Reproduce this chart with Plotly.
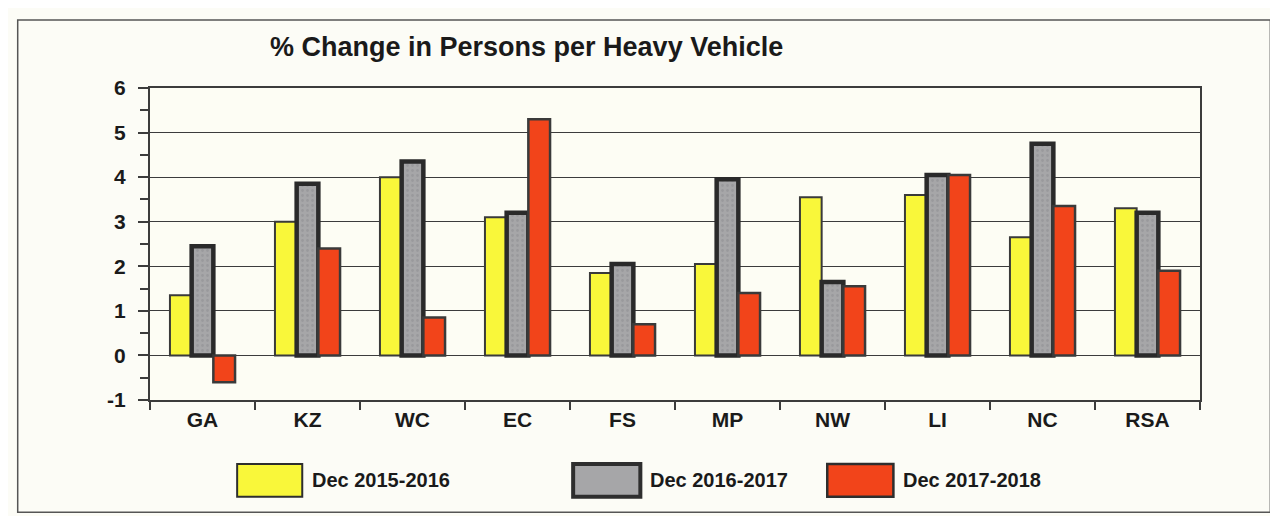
import plotly.graph_objects as go

categories = ["GA", "KZ", "WC", "EC", "FS", "MP", "NW", "LI", "NC", "RSA"]
series_names = ["Dec 2015-2016", "Dec 2016-2017", "Dec 2017-2018"]
vals_2015_2016 = [1.35, 3.0, 4.0, 3.1, 1.85, 2.05, 3.55, 3.6, 2.65, 3.3]
vals_2016_2017 = [2.45, 3.85, 4.35, 3.2, 2.05, 3.95, 1.65, 4.05, 4.75, 3.2]
vals_2017_2018 = [-0.6, 2.4, 0.85, 5.3, 0.7, 1.4, 1.55, 4.05, 3.35, 1.9]
y_ticks = [-1, 0, 1, 2, 3, 4, 5, 6]
y_tick_labels = ["-1", "0", "1", "2", "3", "4", "5", "6"]

YELLOW = "#f9f73a"
GRAY = "#a6a6a8"
RED = "#f2441a"
EDGE = "#3a3a3a"
FONT = "Liberation Sans, Arial, sans-serif"

fig = go.Figure()
fig.add_bar(x=categories, y=vals_2015_2016, name=series_names[0],
            marker=dict(color=YELLOW, line=dict(color=EDGE, width=2)))
fig.add_bar(x=categories, y=vals_2016_2017, name=series_names[1],
            marker=dict(color=GRAY, line=dict(color="#2a2a2a", width=4.5),
                        pattern=dict(shape=".", fgcolor="#8c8c90", bgcolor=GRAY,
                                     size=5, solidity=0.25)))
fig.add_bar(x=categories, y=vals_2017_2018, name=series_names[2],
            marker=dict(color=RED, line=dict(color=EDGE, width=2.5)))

# custom legend (large swatches, as in the reference)
sw = [(0.083, 0.145, YELLOW, 2), (0.403, 0.467, GRAY, 4), (0.645, 0.708, RED, 2.5)]
shapes = []
for (x0, x1, col, lw), name in zip(sw, series_names):
    shapes.append(dict(type="rect", xref="paper", yref="paper", x0=x0, x1=x1,
                       y0=-0.31, y1=-0.205, fillcolor=col,
                       line=dict(color="#2e2e2e", width=lw)))
    fig.add_annotation(xref="paper", yref="paper", x=x1 + 0.007, y=-0.257,
                       xanchor="left", yanchor="middle", showarrow=False,
                       text="<b>%s</b>" % name,
                       font=dict(family=FONT, size=20, color="#1a1a1a"))
# outer frame
shapes.append(dict(type="rect", xref="paper", yref="paper", x0=-0.126, x1=1.067,
                   y0=-0.36, y1=1.218, line=dict(color="#555555", width=1.5),
                   fillcolor="rgba(0,0,0,0)", layer="below"))

fig.update_layout(
    width=1262, height=508,
    margin=dict(l=142, r=70, t=80, b=116),
    paper_bgcolor="#fcfcf6",
    plot_bgcolor="#fdfdf4",
    barmode="group", bargap=0.38, bargroupgap=0.0,
    showlegend=False,
    shapes=shapes,
    title=dict(text="<b>% Change in Persons per Heavy Vehicle</b>",
               xref="container", x=(270 - 8) / 1262, xanchor="left",
               yref="container", y=1 - (47 - 8) / 508, yanchor="middle",
               font=dict(family=FONT, size=27, color="#1a1a1a")),
    font=dict(family=FONT, color="#1a1a1a"),
)
fig.update_yaxes(range=[-1, 6], tickvals=y_ticks,
                 ticktext=["<b>%s</b>" % t for t in y_tick_labels],
                 tickfont=dict(family=FONT, size=21, color="#1a1a1a"),
                 showgrid=True, gridcolor="#3c3c3c", gridwidth=1.3,
                 zeroline=True, zerolinecolor="#3c3c3c", zerolinewidth=1.3,
                 showline=True, linecolor="#3c3c3c", linewidth=2, mirror=True,
                 ticks="outside", ticklen=10, tickcolor="#3c3c3c", tickwidth=1.5,
                 minor=dict(dtick=0.5, ticks="outside", ticklen=8,
                            tickcolor="#3c3c3c", showgrid=False),
                 ticklabelstandoff=8)
fig.update_xaxes(tickvals=categories,
                 ticktext=["<b>%s</b>" % c for c in categories],
                 tickfont=dict(family=FONT, size=21, color="#1a1a1a"),
                 showline=True, linecolor="#3c3c3c", linewidth=2, mirror=True,
                 ticks="outside", tickson="boundaries", ticklen=8,
                 tickcolor="#3c3c3c", tickwidth=2, showgrid=False)

fig.write_html("out.html")
